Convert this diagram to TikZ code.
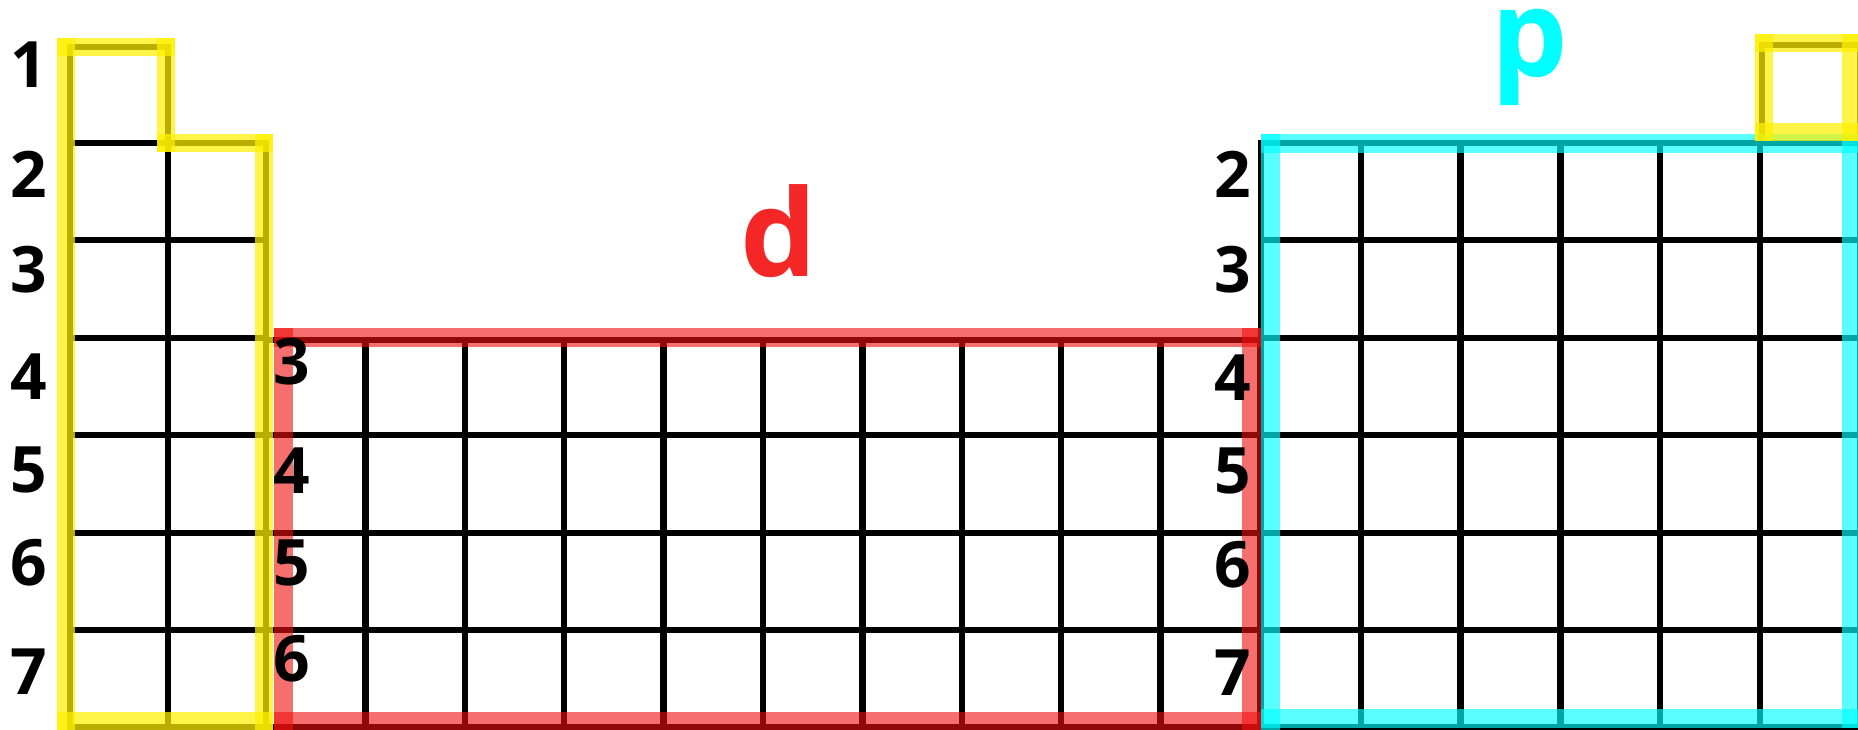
\documentclass[tikz,border=0pt]{standalone}
\usepackage{fontspec}
\setmainfont{Open Sans}
\definecolor{yel}{RGB}{255,240,0}
\definecolor{redc}{RGB}{240,16,16}
\definecolor{cyc}{RGB}{0,255,255}
\definecolor{dred}{RGB}{244,38,38}
\tikzset{
  gridline/.style={line width=6.5pt, draw=black, line cap=rect},
  yband/.style={line width=18pt, draw=yel, draw opacity=0.72, line cap=rect},
  rband/.style={line width=19pt, draw=redc, draw opacity=0.6, line cap=rect},
  cband/.style={line width=19pt, draw=cyc, draw opacity=0.65, line cap=rect},
  lbl/.style={font=\fontsize{64}{64}\selectfont\bfseries, inner sep=0pt, text=black},
  big/.style={font=\fontsize{121}{121}\selectfont\bfseries, inner sep=0pt}
}
\begin{document}
\begin{tikzpicture}[x=1pt, y=-1pt]
\fill[white] (0,0) rectangle (1858,729);
\clip (0,0) rectangle (1858,729);
% ---------- black grid ----------
% s-block, period 1 cell
\draw[gridline] (70,47) rectangle (168,143);
% s-block rows 2-7
\foreach \y in {143,240,338,435,533,630,727} \draw[gridline] (70,\y) -- (266,\y);
\foreach \x in {70,168,266} \draw[gridline] (\x,143) -- (\x,727);
% d-block
\foreach \y in {340,435,533,630,727} \draw[gridline] (266,\y) -- (1260,\y);
\foreach \k in {0,...,10} \draw[gridline] ({266+\k*99.4},340) -- ({266+\k*99.4},727);
% p-block
\foreach \y in {143,240,338,435,533,630,727} \draw[gridline] (1261,\y) -- (1860,\y);
\foreach \k in {0,...,6} \draw[gridline] ({1261+\k*99.8},143) -- ({1261+\k*99.8},727);
% He cell
\draw[gridline] (1762,45) rectangle (1860,143);
% ---------- coloured outlines ----------
% d-block (red)
\draw[rband] (283,337) -- (1251,337);
\draw[rband] (283,337) -- (283,721);
\draw[rband] (283,721) -- (1251,721);
\draw[rband] (1251,337) -- (1251,721);
% p-block (cyan)
\draw[cband] (1270,143) -- (1851,143);
\draw[cband] (1270,143) -- (1270,721);
\draw[cband] (1270,718) -- (1851,718);
\draw[cband] (1851,143) -- (1851,718);
% s-block (yellow)
\draw[yband] (66,47) -- (66,721);
\draw[yband] (66,47) -- (166,47);
\draw[yband] (166,47) -- (166,143);
\draw[yband] (166,143) -- (264,143);
\draw[yband] (264,143) -- (264,721);
\draw[yband] (66,721) -- (264,721);
% He (yellow)
\draw[yband] (1764,43) -- (1851,43);
\draw[yband] (1764,43) -- (1764,132);
\draw[yband] (1764,132) -- (1851,132);
\draw[yband] (1851,43) -- (1851,132);
% ---------- labels ----------
\node[lbl] (s1) at (29,65) {1};
\node[lbl] (s2) at (29,174) {2};
\node[lbl] (s3) at (29,270) {3};
\node[lbl] (s4) at (29,377) {4};
\node[lbl] (s5) at (29,470) {5};
\node[lbl] (s6) at (29,563) {6};
\node[lbl] (s7) at (29,672) {7};
\node[lbl] (d3) at (292,362) {3};
\node[lbl] (d4) at (292,471) {4};
\node[lbl] (d5) at (292,563) {5};
\node[lbl] (d6) at (292,659) {6};
\node[lbl] (p2) at (1233,174) {2};
\node[lbl] (p3) at (1233,270) {3};
\node[lbl] (p4) at (1233,378) {4};
\node[lbl] (p5) at (1233,471) {5};
\node[lbl] (p6) at (1233,565) {6};
\node[lbl] (p7) at (1233,673) {7};
\node[big, text=dred, anchor=south] (dlab) at (779,278) {d};
\node[big, text=cyc, anchor=base] (plab) at (1530,76) {p};
\end{tikzpicture}
\end{document}
